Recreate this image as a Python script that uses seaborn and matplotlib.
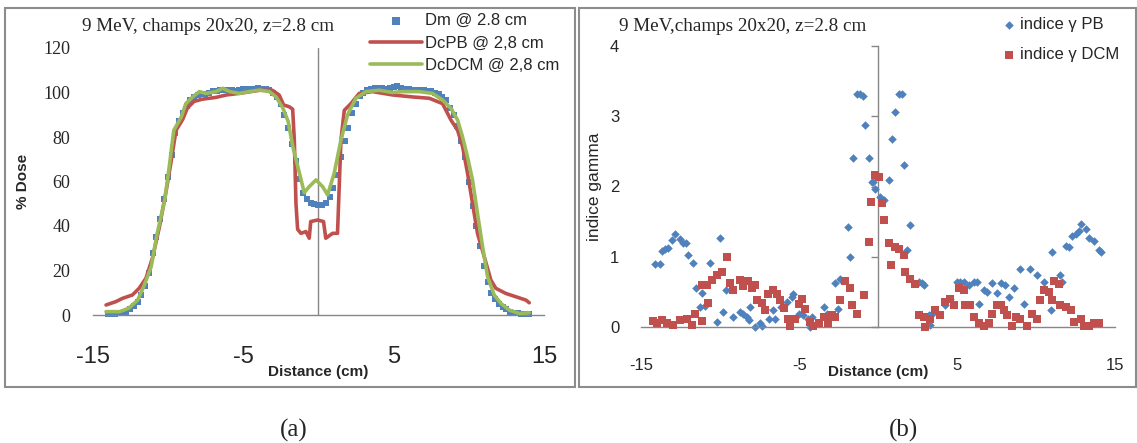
import matplotlib
matplotlib.use("Agg")
import matplotlib.pyplot as plt
import matplotlib.patches as mpatches
import matplotlib.ticker as mticker
import numpy as np
import pandas as pd
import seaborn as sns

sns.set_theme(style="white")
plt.rcParams["font.family"] = ["Liberation Sans", "DejaVu Sans"]

BLUE = "#4F81BD"
RED = "#C0504D"
GREEN = "#9BBB59"
AXIS_GREY = "#868686"
SERIF = ["Liberation Serif", "DejaVu Serif"]

TITLE_A = "9 MeV, champs 20x20, z=2.8 cm"
TITLE_B = "9 MeV,champs 20x20, z=2.8 cm"

# ---------------------------------------------------------------------------
# (a) dose profiles
# ---------------------------------------------------------------------------
dm_x = np.arange(-14.0, 14.01, 0.25)
dm_y = [0.5, 0.5, 0.5, 0.7, 1.0, 1.5, 2.5, 4.0, 6.0,
        9, 13, 19, 28, 35, 43, 52, 62,
        72, 82, 87, 91, 94, 96.5, 98, 99,
        99.5, 99.5, 100, 100.5, 100.5, 101, 101, 101,
        101, 100.5, 101, 101.5, 101.5, 101.5, 101.5, 102,
        101.5, 101.5, 101, 100, 98, 95, 90, 84,
        77, 69, 61, 55, 52, 50.5, 50, 49.5,
        49.5, 50.5, 53, 57, 63, 71, 78, 84,
        91, 95, 98.5, 100, 101, 101.5, 102, 102,
        102, 101.5, 102, 102.5, 103, 102, 101.5, 101.5,
        101, 101, 101, 101, 100.5, 100.5, 100, 99.5,
        98, 96.5, 93, 90, 85, 78, 71, 60,
        49, 40, 31, 22, 15, 10, 7, 5,
        3.5, 2.5, 1.5, 1.0, 0.7, 0.5, 0.5, 0.5]

dcpb_x = [-14.1, -13.45, -13.0, -12.35, -11.9, -11.45, -11.0, -10.55, -10.1,
          -9.8, -9.45, -9.0, -8.7, -8.25, -7.7, -6.8, -6.1, -5.25, -3.9,
          -3.05, -2.6, -2.3, -1.93, -1.7, -1.59, -1.48, -1.37, -1.15, -0.82,
          -0.6, -0.5, -0.04, 0.35, 0.5, 0.95, 1.28, 1.4, 1.51, 1.73, 2.17,
          2.72, 3.61, 4.94, 6.27, 7.38, 8.26, 8.82, 9.26, 9.59, 9.92, 10.25,
          10.58, 11.03, 11.47, 11.8, 12.46, 13.13, 13.8, 14.02]
dcpb_y = [4.5, 6, 7.5, 9, 12, 16.5, 26, 39.7, 56,
          68, 83, 88, 93, 96, 97, 97.8, 98.9, 99.6, 101,
          101, 98.9, 94.4, 93.6, 92.5, 78.7, 50, 38.5, 36.7, 37.5,
          34.5, 42, 42.7, 42, 34.5, 36.7, 36.7, 59, 78.7, 92, 95,
          99.6, 100.4, 98.9, 98, 97.4, 95, 87.6, 83, 75.7, 63.7, 50.2,
          36.7, 26.2, 15.7, 12, 9.7, 8.2, 6.7, 5.5]

dcdcm_x = [-14.1, -13.2, -12.6, -12.0, -11.6, -11.1, -10.7, -10.2, -9.9,
           -9.6, -9.1, -8.8, -8.35, -7.9, -7.45, -6.8, -6.35, -5.9, -5.25,
           -4.6, -3.9, -3.25, -2.8, -2.35, -2.0, -1.7, -1.26, -0.93, -0.6,
           -0.15, 0.29, 0.62, 1.06, 1.51, 1.95, 2.5, 3.17, 4.05, 4.94, 5.6,
           6.71, 7.59, 8.26, 8.82, 9.26, 9.59, 9.92, 10.25, 10.58, 10.92,
           11.25, 11.69, 12.14, 12.69, 13.36, 14.02]
dcdcm_y = [1.5, 1.5, 3, 6.7, 12.7, 21.7, 36.7, 51.7, 66.7,
           83, 89, 95, 98, 100.4, 99.6, 100.4, 101.9, 100.4, 99.6,
           100.4, 101.1, 100.4, 98, 93, 87, 76, 64, 55, 57.7,
           60.7, 57.7, 54, 63.7, 78.7, 90, 97.4, 100.4, 101, 100, 100.4,
           100.4, 99.6, 96.6, 92.9, 87.6, 80, 71, 60.7, 45.7, 30.7,
           17.2, 9, 5.2, 2.2, 0.7, 1]

# ---------------------------------------------------------------------------
# (b) gamma index
# ---------------------------------------------------------------------------
pb_x = [-14.15, -13.85, -13.7, -13.5, -13.3, -13.08, -12.87, -12.57, -12.36,
        -12.18, -12.02, -11.75, -11.54, -11.28, -11.17, -10.95, -10.65,
        -10.22, -10.01, -9.8, -9.61, -9.17, -8.74, -8.53, -8.32, -8.2, -8.11,
        -7.8, -7.5, -7.37, -7.16, -6.9, -6.63, -6.52, -6.16, -5.78, -5.46,
        -5.36, -5.04, -4.75, -4.41, -4.3, -4.19, -3.45, -3.24, -2.71, -2.55,
        -2.39, -1.93, -1.76, -1.59, -1.33, -1.17, -0.95, -0.81, -0.55, -0.38,
        -0.29, -0.17, 0.15, 0.36, 0.67, 0.86, 1.05, 1.31, 1.49, 1.63, 1.84,
        2.05, 2.58, 2.79, 2.92, 3.21, 3.32, 3.43, 4.27, 4.59, 5.02, 5.22,
        5.43, 5.75, 6.07, 6.29, 6.39, 6.7, 6.92, 7.24, 7.56, 7.77, 8.08,
        8.29, 8.61, 9.03, 9.24, 9.66, 10.09, 10.51, 10.94, 11.05, 11.57,
        11.68, 11.89, 12.1, 12.32, 12.53, 12.74, 12.84, 13.16, 13.37, 13.69,
        14.0, 14.11]
pb_y = [0.90, 0.90, 1.08, 1.11, 1.12, 1.24, 1.33, 1.25, 1.20,
        1.20, 1.02, 0.91, 0.55, 0.29, 0.48, 0.30, 0.91,
        0.07, 1.26, 0.22, 0.53, 0.14, 0.21, 0.19, 0.14, 0.10, 0.29,
        0.00, 0.05, 0.02, 0.26, 0.12, 0.24, 0.12, 0.28, 0.36, 0.43,
        0.47, 0.19, 0.17, 0.12, 0.00, 0.14, 0.29, 0.19, 0.62, 0.26,
        0.69, 1.42, 1.00, 2.40, 3.32, 3.32, 3.29, 2.88, 2.40, 2.07,
        2.07, 1.97, 1.85, 1.81, 2.09, 2.68, 3.06, 3.32, 3.32, 2.30, 1.09,
        1.45, 0.64, 0.62, 0.60, 0.17, 0.03, 0.19, 0.31, 0.40, 0.64, 0.64,
        0.64, 0.60, 0.64, 0.64, 0.33, 0.52, 0.50, 0.62, 0.48, 0.62, 0.60,
        0.43, 0.55, 0.83, 0.33, 0.83, 0.74, 0.64, 0.24, 1.07, 0.74,
        0.64, 1.16, 1.14, 1.30, 1.32, 1.36, 1.47, 1.40, 1.26, 1.23,
        1.09, 1.07]

dcm_x = [-14.25, -14.0, -13.7, -13.4, -12.98, -12.55, -12.13, -11.8, -11.6,
         -11.17, -11.17, -10.86, -10.8, -10.54, -10.22, -9.9, -9.59, -9.38,
         -9.17, -8.74, -8.53, -8.22, -8.0, -7.79, -7.68, -7.37, -7.16, -6.95,
         -6.63, -6.41, -6.2, -5.99, -5.68, -5.57, -5.25, -5.04, -4.82, -4.62,
         -4.3, -4.09, -3.77, -3.45, -3.14, -2.92, -2.71, -2.39, -2.08, -1.76,
         -1.65, -1.33, -0.91, -0.6, -0.44, -0.17, 0.04, 0.25, 0.4, 0.67,
         0.83, 1.1, 1.31, 1.63, 1.74, 2.0, 2.37, 2.58, 2.9, 3.0, 3.32, 3.64,
         3.96, 4.27, 4.59, 4.8, 5.12, 5.43, 5.54, 5.86, 6.07, 6.39, 6.7,
         7.02, 7.24, 7.56, 7.77, 7.98, 8.19, 8.51, 8.72, 9.03, 9.46, 9.78,
         10.09, 10.3, 10.51, 10.83, 11.05, 11.15, 11.47, 11.57, 11.89, 12.21,
         12.42, 12.84, 13.05, 13.37, 13.69, 14.0]
dcm_y = [0.08, 0.06, 0.10, 0.05, 0.03, 0.10, 0.12, 0.03, 0.19,
         0.08, 0.60, 0.60, 0.34, 0.67, 0.74, 0.78, 1.00, 0.62,
         0.53, 0.67, 0.58, 0.65, 0.56, 0.60, 0.39, 0.34, 0.24, 0.47,
         0.52, 0.47, 0.38, 0.27, 0.12, 0.02, 0.12, 0.33, 0.40, 0.26,
         0.07, 0.02, 0.05, 0.14, 0.05, 0.17, 0.14, 0.38, 0.66, 0.55,
         0.31, 0.19, 0.45, 1.21, 1.78, 2.16, 2.14, 1.76, 1.52, 1.19,
         0.88, 1.14, 1.11, 1.03, 0.78, 0.69, 0.61, 0.17, 0.14, 0.00, 0.12, 0.24,
         0.17, 0.36, 0.40, 0.31, 0.55, 0.52, 0.31, 0.31, 0.14, 0.05, 0.02,
         0.05, 0.19, 0.31, 0.31, 0.24, 0.17, 0.02, 0.14, 0.12, 0.02, 0.19,
         0.12, 0.38, 0.52, 0.50, 0.38, 0.66, 0.61, 0.31, 0.29, 0.24,
         0.07, 0.12, 0.02, 0.02, 0.05, 0.05]

X_TICKS = [-15, -5, 5, 15]
X_TICK_LABELS = ["-15", "-5", "5", "15"]

W, H = 1137, 443


def fig_rect(x0, y0, x1, y1):
    """pixel box (top-left origin) -> figure fraction [l, b, w, h]"""
    return [x0 / W, 1 - y1 / H, (x1 - x0) / W, (y1 - y0) / H]


fig = plt.figure(figsize=(W / 100, H / 100), dpi=100)
fig.patch.set_facecolor("white")

# panel frames
for x0, x1 in [(5, 575), (579, 1136)]:
    l, b, w, h = fig_rect(x0, 8, x1, 387)
    fig.add_artist(mpatches.Rectangle((l, b), w, h, transform=fig.transFigure,
                                      fill=False, edgecolor="#8c8c8c", lw=1.5))

# ═══════════════════════════ panel (a) ═════════════════════════════════════
ax = fig.add_axes(fig_rect(92.5, 48, 544, 315))
sns.scatterplot(x=dm_x, y=dm_y, ax=ax, marker="s", s=14, color=BLUE,
                linewidth=0, label="Dm @ 2.8 cm", clip_on=False, zorder=2)
sns.lineplot(x=dcpb_x, y=dcpb_y, ax=ax, color=RED, lw=2.6,
             label="DcPB @ 2,8 cm", zorder=3)
sns.lineplot(x=dcdcm_x, y=dcdcm_y, ax=ax, color=GREEN, lw=2.6,
             label="DcDCM @ 2,8 cm", zorder=4)
ax.axvline(0, color=AXIS_GREY, lw=1, zorder=1)
ax.set_xlim(-15, 15)
ax.set_ylim(0, 120)
ax.set_yticks(range(0, 121, 20))
ax.set_xticks(X_TICKS)
ax.set_xticklabels(X_TICK_LABELS, fontsize=17)
for t in ax.get_yticklabels():
    t.set_family(SERIF)
    t.set_fontsize(13)
ax.tick_params(axis="both", length=0)
ax.tick_params(axis="x", pad=22)
ax.tick_params(axis="y", pad=16)
for side in ["left", "right", "top"]:
    ax.spines[side].set_visible(False)
ax.spines["bottom"].set_color(AXIS_GREY)
ax.spines["bottom"].set_linewidth(1)
ax.set_xlabel("Distance (cm)", fontsize=11, fontweight="bold")
ax.xaxis.set_label_coords(0.5, -0.187)
ax.set_ylabel("% Dose", fontsize=11, fontweight="bold")
ax.yaxis.set_label_coords(-0.138, 0.5)
ax.text(-0.023, 1.082, TITLE_A, transform=ax.transAxes, ha="left",
        va="center", fontsize=13.8, family=SERIF)
ax.legend(loc="upper left", bbox_to_anchor=(370 / W, 1 - 13 / H),
          bbox_transform=fig.transFigure, frameon=False, fontsize=12,
          borderpad=0, borderaxespad=0, handlelength=3.1, handletextpad=0.2,
          labelspacing=0.45, markerscale=1.5)

# ═══════════════════════════ panel (b) ═════════════════════════════════════
ax = fig.add_axes(fig_rect(641.4, 46, 1114.6, 327))
sns.scatterplot(x=pb_x, y=pb_y, ax=ax, marker="D", s=19, color=BLUE,
                linewidth=0, label="indice γ PB", clip_on=False, zorder=2)
sns.scatterplot(x=dcm_x, y=dcm_y, ax=ax, marker="s", s=36, color=RED,
                linewidth=0, label="indice γ DCM", clip_on=False, zorder=3)
ax.set_xlim(-15, 15)
ax.set_ylim(0, 4)
ax.set_yticks(range(0, 5))
ax.set_xticks(X_TICKS)
ax.set_xticklabels(X_TICK_LABELS, fontsize=12)
ax.tick_params(axis="y", labelsize=12, length=0, pad=16)
ax.tick_params(axis="x", length=0, pad=22)
for side in ["left", "right", "top"]:
    ax.spines[side].set_visible(False)
ax.spines["bottom"].set_color(AXIS_GREY)
ax.spines["bottom"].set_linewidth(1)
# vertical value axis crossing at x = 0, with its tick marks only
vax = ax.secondary_yaxis(0.5)
for sp in vax.spines.values():
    sp.set_color(AXIS_GREY)
    sp.set_linewidth(1)
vax.set_yticks(range(0, 5))
vax.yaxis.set_major_formatter(mticker.NullFormatter())
vax.tick_params(axis="y", which="both", length=5, width=1, color=AXIS_GREY,
                direction="out", left=True, right=False)
ax.set_xlabel("Distance (cm)", fontsize=11, fontweight="bold")
ax.xaxis.set_label_coords(0.5, -0.135)
ax.set_ylabel("indice gamma", fontsize=12.5)
ax.yaxis.set_label_coords(-0.083, 0.5)
ax.text(-0.047, 1.071, TITLE_B, transform=ax.transAxes, ha="left",
        va="center", fontsize=13.8, family=SERIF)
ax.legend(loc="upper left", bbox_to_anchor=(1002 / W, 1 - 17 / H),
          bbox_transform=fig.transFigure, frameon=False, fontsize=12,
          borderpad=0, borderaxespad=0, handlelength=0.8, handletextpad=0.25,
          labelspacing=0.9)

fig.text(294 / W, 1 - 430 / H, "(a)", ha="center", va="center",
         fontsize=18, family=SERIF)
fig.text(903 / W, 1 - 430 / H, "(b)", ha="center", va="center",
         fontsize=18, family=SERIF)

fig.savefig("out.png", dpi=100)
